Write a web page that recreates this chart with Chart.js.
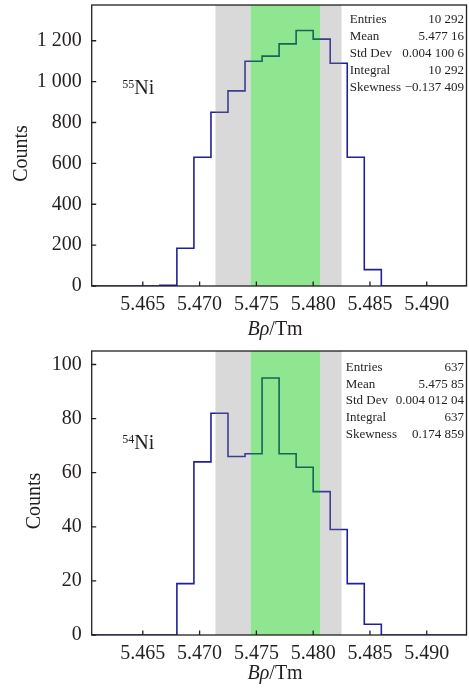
<!DOCTYPE html>
<html>
<head>
<meta charset="utf-8">
<script src="https://cdn.jsdelivr.net/npm/chart.js@4.4.0/dist/chart.umd.min.js"></script>
<style>
  html, body { margin: 0; padding: 0; background: #fff; }
  .panel { position: absolute; left: 0; width: 469px; }
</style>
</head>
<body>
<div class="panel" style="top:0"><canvas id="ni55" width="469" height="346"></canvas></div>
<div class="panel" style="top:346px"><canvas id="ni54" width="469" height="347"></canvas></div>
<script>
// binning of the B-rho histograms
const histMin = 5.4605;
const histMax = 5.4935;
const binWidth = 0.0015;
const xTicks = [5.465, 5.470, 5.475, 5.480, 5.485, 5.490];

// counts per bin
const counts55 = [0, 0, 0, 0, 4, 185, 630, 850, 955, 1100, 1125, 1185, 1250, 1208, 1090, 630, 80, 0, 0, 0, 0, 0];
const counts54 = [0, 0, 0, 0, 0, 19, 64, 82, 66, 67, 95, 67, 62, 53, 39, 19, 4, 0, 0, 0, 0, 0];

const yTicks55 = [0, 200, 400, 600, 800, 1000, 1200];
const yTicks54 = [0, 20, 40, 60, 80, 100];

// selection windows
const grayBand = [5.4714, 5.4825];
const greenBand = [5.4745, 5.4806];

// stats box
const statNames = ['Entries', 'Mean', 'Std Dev', 'Integral', 'Skewness'];
const stats55 = ['10 292', '5.477 16', '0.004 100 6', '10 292', '\u22120.137 409'];
const stats54 = ['637', '5.475 85', '0.004 012 04', '637', '0.174 859'];

const SERIF = '"Liberation Serif", "Times New Roman", serif';
const INK = '#231f20';

const binEdges = counts55.map((_, i) => +(histMin + i * binWidth).toFixed(4));

function thinSpace(v) {
  return String(v).replace(/\B(?=(\d{3})+(?!\d))/g, ' ');
}

const histDecor = {
  id: 'histDecor',
  afterDatasetsDraw(chart, args, o) {
    const {ctx, chartArea: a, scales: {x, y}} = chart;
    const h = a.bottom - a.top;
    ctx.save();

    // windows, drawn over the histogram line
    const g0 = x.getPixelForValue(grayBand[0]), g1 = x.getPixelForValue(grayBand[1]);
    const s0 = x.getPixelForValue(greenBand[0]), s1 = x.getPixelForValue(greenBand[1]);
    ctx.fillStyle = 'rgba(128,128,128,0.3)';
    ctx.fillRect(g0, a.top, s0 - g0, h);
    ctx.fillRect(s1, a.top, g1 - s1, h);
    ctx.fillStyle = 'rgba(0,195,0,0.435)';
    ctx.fillRect(s0, a.top, s1 - s0, h);

    // frame
    ctx.strokeStyle = INK;
    ctx.lineWidth = 1.3;
    ctx.strokeRect(a.left, a.top, a.right - a.left, h);

    // inward tick marks
    ctx.beginPath();
    x.ticks.forEach(t => {
      const px = x.getPixelForValue(t.value);
      ctx.moveTo(px, a.bottom);
      ctx.lineTo(px, a.bottom - 4.5);
    });
    y.ticks.forEach(t => {
      const py = y.getPixelForValue(t.value);
      ctx.moveTo(a.left, py);
      ctx.lineTo(a.left + 4.5, py);
    });
    ctx.stroke();

    // stats box
    ctx.fillStyle = INK;
    ctx.font = '13px ' + SERIF;
    ctx.textBaseline = 'middle';
    statNames.forEach((n, i) => {
      const py = a.top + o.statsDy + i * 16.8;
      ctx.textAlign = 'left';
      ctx.fillText(n, a.left + o.statsX, py);
      ctx.textAlign = 'right';
      ctx.fillText(o.stats[i], a.right - 2.5, py);
    });

    // isotope label
    ctx.textBaseline = 'alphabetic';
    ctx.textAlign = 'left';
    ctx.font = '12px ' + SERIF;
    ctx.fillText(o.mass, a.left + 30.5, a.top + o.labelDy - 6);
    ctx.font = '20px ' + SERIF;
    ctx.fillText('Ni', a.left + 42.6, a.top + o.labelDy);

    // x title: italic B-rho over Tm
    ctx.font = 'italic 20px ' + SERIF;
    const w1 = ctx.measureText('B\u03c1').width;
    ctx.font = '20px ' + SERIF;
    const w2 = ctx.measureText('/Tm').width;
    const cx = (a.left + a.right) / 2 - 4;
    const by = a.bottom + o.xTitleDy;
    ctx.font = 'italic 20px ' + SERIF;
    ctx.fillText('B\u03c1', cx - (w1 + w2) / 2, by);
    ctx.font = '20px ' + SERIF;
    ctx.fillText('/Tm', cx - (w1 + w2) / 2 + w1, by);

    // y title
    ctx.translate(o.yTitleX, (a.top + a.bottom) / 2 + 8);
    ctx.rotate(-Math.PI / 2);
    ctx.textAlign = 'center';
    ctx.textBaseline = 'middle';
    ctx.fillText('Counts', 0, 0);

    ctx.restore();
  }
};

function makeHist(id, counts, yMax, yTicks, stats, mass, lay) {
  const pts = counts.map((c, i) => ({x: binEdges[i], y: c}));
  pts.push({x: histMax, y: counts[counts.length - 1]});

  return new Chart(document.getElementById(id), {
    type: 'line',
    data: {
      datasets: [{
        data: pts,
        stepped: 'before',
        borderColor: '#20209a',
        borderWidth: 1.6,
        pointRadius: 0,
        fill: false
      }]
    },
    options: {
      responsive: false,
      animation: false,
      devicePixelRatio: 1,
      layout: {padding: {top: lay.padTop, right: 2.5, left: 0, bottom: 0}},
      plugins: {
        legend: {display: false},
        tooltip: {enabled: false},
        histDecor: Object.assign({stats: stats, mass: mass}, lay)
      },
      scales: {
        x: {
          type: 'linear',
          min: histMin,
          max: histMax,
          afterBuildTicks: s => { s.ticks = xTicks.map(v => ({value: v})); },
          afterFit: s => {
            s.height = lay.xAxisH;
            s.paddingLeft = 0;
            s.paddingRight = 0;
          },
          grid: {display: false, drawTicks: false},
          border: {display: false},
          ticks: {
            padding: 7,
            autoSkip: false,
            maxRotation: 0,
            color: INK,
            font: {family: SERIF, size: 20},
            callback: v => v.toFixed(3)
          }
        },
        y: {
          min: 0,
          max: yMax,
          afterBuildTicks: s => { s.ticks = yTicks.map(v => ({value: v})); },
          afterFit: s => {
            s.width = 91.7;
            s.paddingTop = 0;
            s.paddingBottom = 0;
          },
          grid: {display: false, drawTicks: false},
          border: {display: false},
          ticks: {
            padding: 10,
            color: INK,
            font: {family: SERIF, size: 20},
            callback: v => thinSpace(v)
          }
        }
      }
    },
    plugins: [histDecor]
  });
}

makeHist('ni55', counts55, 1375, yTicks55, stats55, '55',
  {padTop: 5, xAxisH: 60, statsX: 258, statsDy: 15, labelDy: 89, xTitleDy: 49, yTitleX: 22});
makeHist('ni54', counts54, 105, yTicks54, stats54, '54',
  {padTop: 5, xAxisH: 58, statsX: 254, statsDy: 16.3, labelDy: 98, xTitleDy: 44, yTitleX: 35});
</script>
</body>
</html>
